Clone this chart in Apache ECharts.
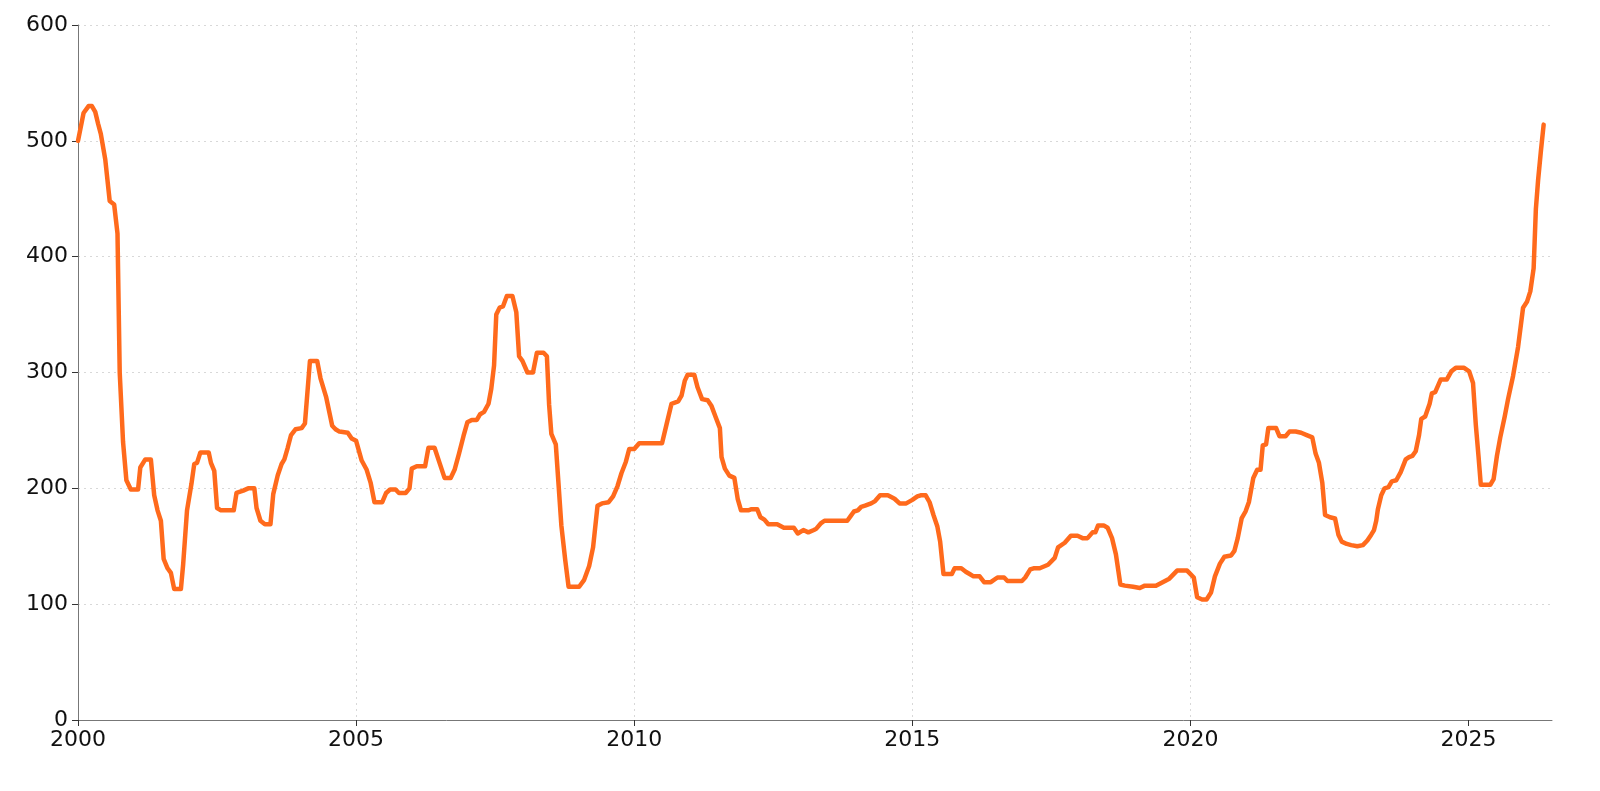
<!DOCTYPE html>
<html>
<head>
<meta charset="utf-8">
<script src="https://cdn.jsdelivr.net/npm/echarts@6/dist/echarts.min.js"></script>
<style>
  html, body { margin: 0; padding: 0; background: #fff; }
  #main { width: 1600px; height: 791px; }
</style>
</head>
<body>
<div id="main"></div>
<script>
// x positions in decimal years
var years = [
  2000.00, 2000.10, 2000.19, 2000.25, 2000.31, 2000.36, 2000.41, 2000.49, 2000.57, 2000.65,
  2000.71, 2000.75, 2000.81, 2000.87, 2000.95, 2001.08, 2001.12, 2001.21, 2001.31, 2001.37,
  2001.43, 2001.49, 2001.54, 2001.61, 2001.67, 2001.73, 2001.85, 2001.89, 2001.96, 2002.04,
  2002.09, 2002.14, 2002.20, 2002.35, 2002.39, 2002.45, 2002.50, 2002.57, 2002.80, 2002.85,
  2002.97, 2003.06, 2003.17, 2003.21, 2003.28, 2003.36, 2003.46, 2003.51, 2003.59, 2003.66,
  2003.71, 2003.77, 2003.83, 2003.91, 2004.02, 2004.08, 2004.17, 2004.30, 2004.36, 2004.46,
  2004.57, 2004.63, 2004.70, 2004.85, 2004.92, 2005.00,
  2005.10, 2005.19, 2005.26, 2005.33, 2005.47, 2005.54, 2005.61, 2005.71, 2005.77, 2005.89,
  2005.96, 2006.00, 2006.09, 2006.24, 2006.30, 2006.41, 2006.50, 2006.59, 2006.70, 2006.77,
  2006.85, 2006.93, 2007.00, 2007.08, 2007.17, 2007.23, 2007.30, 2007.38, 2007.43, 2007.48,
  2007.52, 2007.58, 2007.64, 2007.71, 2007.81, 2007.88, 2007.93, 2007.99, 2008.08, 2008.18,
  2008.25, 2008.37, 2008.43, 2008.47, 2008.51, 2008.59, 2008.63, 2008.69, 2008.76, 2008.82,
  2009.01, 2009.10, 2009.19, 2009.26, 2009.34, 2009.42, 2009.54, 2009.62, 2009.70, 2009.77,
  2009.85, 2009.91, 2010.00,
  2010.09, 2010.50, 2010.58, 2010.67, 2010.79, 2010.85, 2010.91, 2010.96, 2011.08, 2011.14,
  2011.22, 2011.32, 2011.39, 2011.46, 2011.54, 2011.57, 2011.63, 2011.71, 2011.80, 2011.86,
  2011.92, 2012.05, 2012.11, 2012.21, 2012.27, 2012.34, 2012.41, 2012.57, 2012.69, 2012.87,
  2012.94, 2013.04, 2013.13, 2013.23, 2013.27, 2013.36, 2013.42, 2013.83, 2013.89, 2013.95,
  2014.02, 2014.08, 2014.15, 2014.26, 2014.33, 2014.42, 2014.56, 2014.68, 2014.77, 2014.89,
  2015.00, 2015.09,
  2015.15, 2015.24, 2015.31, 2015.38, 2015.45, 2015.50, 2015.56, 2015.71, 2015.76, 2015.88,
  2015.96, 2016.03, 2016.10, 2016.21, 2016.29, 2016.41, 2016.53, 2016.65, 2016.71, 2016.97,
  2017.03, 2017.12, 2017.18, 2017.29, 2017.44, 2017.56, 2017.62, 2017.74, 2017.85, 2017.97,
  2018.06, 2018.15, 2018.24, 2018.29, 2018.34, 2018.44, 2018.51, 2018.59, 2018.66, 2018.74,
  2018.82, 2018.97, 2019.09, 2019.18, 2019.38, 2019.50, 2019.62, 2019.76, 2019.94, 2020.06,
  2020.12, 2020.21, 2020.29, 2020.37,
  2020.44, 2020.53, 2020.61, 2020.73, 2020.79, 2020.85, 2020.92, 2020.99, 2021.05, 2021.13,
  2021.20, 2021.26, 2021.30, 2021.36, 2021.40, 2021.54, 2021.60, 2021.71, 2021.78, 2021.89,
  2021.99, 2022.09, 2022.19, 2022.25, 2022.31, 2022.37, 2022.42, 2022.51, 2022.60, 2022.66,
  2022.72, 2022.81, 2022.89,
  2023.00, 2023.10, 2023.18, 2023.25, 2023.30, 2023.34, 2023.37, 2023.43, 2023.49, 2023.56,
  2023.62, 2023.70, 2023.78, 2023.87, 2023.93, 2023.99, 2024.05, 2024.11, 2024.15, 2024.22,
  2024.30, 2024.34, 2024.40, 2024.50, 2024.61, 2024.69, 2024.77, 2024.92, 2025.01, 2025.08,
  2025.13, 2025.18, 2025.22, 2025.39, 2025.45, 2025.51, 2025.57, 2025.65, 2025.71, 2025.80,
  2025.89, 2025.98, 2026.05, 2026.11, 2026.17, 2026.21, 2026.25, 2026.30, 2026.35
];

var values = [
  500, 524, 530, 530, 525, 515, 506, 484, 448, 445,
  420, 300, 240, 207, 199, 199, 218, 225, 225, 194,
  181, 172, 139, 131, 127, 113, 113, 134, 181, 204,
  221, 222, 231, 231, 222, 215, 183, 181, 181, 196,
  198, 200, 200, 183, 172, 169, 169, 195, 211, 221,
  225, 235, 246, 251, 252, 256, 310, 310, 295, 279,
  254, 251, 249, 248, 243, 241,
  224, 216, 205, 188, 188, 196, 199, 199, 196, 196,
  200, 217, 219, 219, 235, 235, 222, 209, 209, 216,
  230, 245, 257, 259, 259, 264, 266, 273, 286, 306,
  350, 356, 357, 366, 366, 352, 314, 310, 300, 300,
  317, 317, 314, 272, 247, 238, 210, 168, 138, 115,
  115, 121, 133, 149, 185, 187, 188, 193, 202, 213,
  223, 234, 234,
  239, 239, 255, 273, 275, 280, 293, 298, 298, 287,
  277, 276, 271, 262, 252, 227, 217, 211, 209, 191,
  181, 181, 182, 182, 175, 173, 169, 169, 166, 166,
  161, 164, 162, 164, 165, 170, 172, 172, 176, 180,
  181, 184, 185, 187, 189, 194, 194, 191, 187, 187,
  190, 193,
  194, 194, 188, 177, 167, 154, 126, 126, 131, 131,
  128, 126, 124, 124, 119, 119, 123, 123, 120, 120,
  123, 130, 131, 131, 134, 140, 149, 153, 159, 159,
  157, 157, 162, 162, 168, 168, 166, 157, 143, 117,
  116, 115, 114, 116, 116, 119, 122, 129, 129, 123,
  106, 104, 104, 110,
  124, 135, 141, 142, 146, 157, 174, 180, 188, 209,
  216, 216, 237, 238, 252, 252, 245, 245, 249, 249,
  248, 246, 244, 230, 222, 205, 177, 175, 174, 160,
  154, 152, 151,
  150, 151, 155, 160, 164, 172, 182, 194, 200, 201,
  206, 207, 214, 225, 227, 228, 232, 246, 260, 262,
  273, 282, 283, 294, 294, 301, 304, 304, 301, 291,
  255, 227, 203, 203, 208, 228, 244, 262, 277, 297,
  322, 356, 361, 370, 390, 441, 466, 491, 514
];

var xTicks = [2000, 2005, 2010, 2015, 2020, 2025];
var yTicks = [0, 100, 200, 300, 400, 500, 600];

var points = years.map(function (y, i) { return [y, values[i]]; });

var chart = echarts.init(document.getElementById('main'));

var labelFont = {
  color: '#111',
  fontSize: 22,
  fontFamily: 'DejaVu Sans'
};

chart.setOption({
  animation: false,
  backgroundColor: '#fff',
  grid: { left: 78, right: 48, top: 25, bottom: 71, containLabel: false },
  xAxis: {
    type: 'value',
    min: 2000,
    max: 2026.5,
    interval: 5,
    axisLine: { show: true, lineStyle: { color: '#777', width: 1 } },
    axisTick: { show: true, length: 6, lineStyle: { color: '#333' }, customValues: xTicks },
    axisLabel: Object.assign({ margin: 9, customValues: xTicks, formatter: function (v) { return String(v); } }, labelFont),
    splitLine: { show: true, showMinLine: false, showMaxLine: false, lineStyle: { color: '#d8d8d8', type: [2, 4], width: 1 } }
  },
  yAxis: {
    type: 'value',
    min: 0,
    max: 600,
    interval: 100,
    axisLine: { show: true, lineStyle: { color: '#777', width: 1 } },
    axisTick: { show: true, length: 6, lineStyle: { color: '#333' } },
    axisLabel: Object.assign({ margin: 10, customValues: yTicks }, labelFont),
    splitLine: { show: true, showMinLine: false, lineStyle: { color: '#d8d8d8', type: [2, 4], width: 1 } }
  },
  series: [{
    type: 'line',
    data: points,
    showSymbol: false,
    symbol: 'none',
    smooth: false,
    lineStyle: { color: '#ff6a1c', width: 4.5, join: 'round', cap: 'round' }
  }]
});
</script>
</body>
</html>
